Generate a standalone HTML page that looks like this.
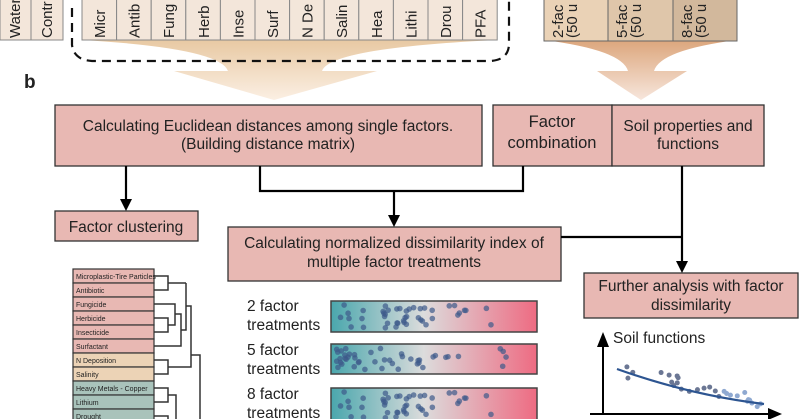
<!DOCTYPE html>
<html><head><meta charset="utf-8"><style>
html,body{margin:0;padding:0;background:#fff;width:800px;height:419px;overflow:hidden}
svg text{font-family:"Liberation Sans",Arial,sans-serif;fill:#222}
</style></head><body>
<svg id="s" width="800" height="419" viewBox="0 0 800 419" xmlns="http://www.w3.org/2000/svg">
<defs>
<linearGradient id="fun" x1="0" y1="0" x2="0" y2="1"><stop offset="0" stop-color="#e8c9a3"/><stop offset="1" stop-color="#fbefe3"/></linearGradient>
<linearGradient id="fun2" x1="0" y1="0" x2="0" y2="1"><stop offset="0" stop-color="#dca67c"/><stop offset="1" stop-color="#f7e6dc"/></linearGradient>
<linearGradient id="bar" x1="0" y1="0" x2="1" y2="0"><stop offset="0" stop-color="#4aa7ad"/><stop offset="0.45" stop-color="#dcdcdc"/><stop offset="1" stop-color="#ee6b82"/></linearGradient>
</defs>
<path d="M82,40 L497,40 Q330,48 322,71 L377,71 L274,100 L174,71 L228,71 Q220,48 82,40 Z" fill="url(#fun)"/>
<path d="M544,40 L737,40 Q660,50 654,71 L687,71 L641,100 L597,71 L628,71 Q622,50 544,40 Z" fill="url(#fun2)"/>
<g stroke="#888" stroke-width="1">
<rect x="0" y="-2" width="31" height="42" fill="#f3e6da"/><rect x="31" y="-2" width="32" height="42" fill="#f3e6da"/>
</g>
<g id="tubes" stroke="#888" stroke-width="1" fill="#f3e6da"></g>
<g stroke="#666" stroke-width="1">
<rect x="544" y="-2" width="64" height="43" fill="#ead2b6"/><rect x="608" y="-2" width="65" height="43" fill="#dfc6aa"/><rect x="673" y="-2" width="64" height="43" fill="#d2b89c"/>
</g>
<path d="M72,8 L72,45 Q74,60 92,61 L490,61 Q508,60 509,45 L509,0" fill="none" stroke="#111" stroke-width="2.2" stroke-dasharray="9,6"/>
<g font-size="15" id="vt"></g>
<text x="24" y="88" font-size="19" font-weight="bold">b</text>
<g fill="#e8b8b3" stroke="#333" stroke-width="1.3">
<rect x="55" y="105" width="427" height="61"/>
<rect x="493" y="105" width="119" height="61"/>
<rect x="612" y="105" width="152" height="61"/>
<rect x="55" y="211" width="143" height="30"/>
<rect x="228" y="227" width="333" height="54"/>
<rect x="584" y="273" width="214" height="45"/>
</g>
<g font-size="15.5" text-anchor="middle">
<text x="268" y="131">Calculating Euclidean distances among single factors.</text>
<text x="268" y="149">(Building distance matrix)</text>
<text x="552" y="127" font-size="16.5">Factor</text>
<text x="552" y="148" font-size="16.5">combination</text>
<text x="688" y="131">Soil properties and</text>
<text x="688" y="149">functions</text>
<text x="126" y="232">Factor clustering</text>
<text x="394" y="248">Calculating normalized dissimilarity index of</text>
<text x="394" y="267">multiple factor treatments</text>
<text x="691" y="291">Further analysis with factor</text>
<text x="691" y="310">dissimilarity</text>
</g>
<g stroke="#000" stroke-width="2.2" fill="none">
<line x1="126" y1="166" x2="126" y2="200"/>
<polyline points="260,166 260,191 523,191 523,166"/>
<line x1="394" y1="191" x2="394" y2="216"/>
<polyline points="561,237 682,237"/>
<line x1="682" y1="166" x2="682" y2="262"/>
</g>
<g fill="#000">
<polygon points="120,199 132,199 126,211"/>
<polygon points="388,215 400,215 394,227"/>
<polygon points="676,261 688,261 682,273"/>
</g>
<g id="dend" font-size="7"></g>
<g stroke="#333" stroke-width="1.5" fill="none">
<polyline points="154,276 168,276 168,290 154,290"/><line x1="168" y1="283" x2="186" y2="283"/>
<polyline points="154,318 168,318 168,332 154,332"/><polyline points="154,304 175,304 175,325 168,325"/>
<polyline points="154,346 181,346 181,314 175,314"/>
<polyline points="186,283 186,330 181,330"/>
<polyline points="186,306 191,306 191,342"/>
<polyline points="154,360 168,360 168,374 154,374"/><polyline points="168,367 191,367 191,342"/>
<polyline points="191,355 200,355 200,419"/>
<polyline points="154,388 168,388 168,402 154,402"/><polyline points="168,395 176,395 176,419"/>
<polyline points="154,416 168,416 168,419"/>
</g>
<g font-size="15.5">
<text x="247" y="311">2 factor</text><text x="247" y="330">treatments</text>
<text x="247" y="355">5 factor</text><text x="247" y="374">treatments</text>
<text x="247" y="399">8 factor</text><text x="247" y="418">treatments</text>
</g>
<g stroke="#444" stroke-width="1.5" fill="url(#bar)">
<rect x="331" y="301" width="206" height="31"/>
<rect x="331" y="344" width="206" height="30"/>
<rect x="331" y="388" width="206" height="34"/>
</g>
<g id="dots" fill="#3d5a8a" fill-opacity="0.7"></g>
<line x1="603" y1="414" x2="603" y2="345" stroke="#000" stroke-width="2"/>
<polygon points="597,347 609,347 603,332" fill="#000"/>
<line x1="590" y1="414" x2="770" y2="414" stroke="#000" stroke-width="2"/>
<polygon points="768,408 768,420 782,414" fill="#000"/>
<text x="613" y="343" font-size="15.5">Soil functions</text>
<g id="pd" fill="#6b7794"></g>
<path d="M617,369 Q690,395 764,404" stroke="#2d5591" stroke-width="2.2" fill="none"/>
</svg>
<script>
var NS="http://www.w3.org/2000/svg";
function el(t,a,p,txt){var e=document.createElementNS(NS,t);for(var k in a)e.setAttribute(k,a[k]);if(txt)e.textContent=txt;document.getElementById(p).appendChild(e);return e;}
var names=["Micr","Antib","Fung","Herb","Inse","Surf","N De","Salin","Hea","Lithi","Drou","PFA"];
for(var i=0;i<12;i++){var x=82+i*34.6;el("rect",{x:x,y:-2,width:34.6,height:42},"tubes");
el("text",{x:0,y:0,transform:"translate("+(x+23)+",38) rotate(-90)"},"vt",names[i]);}
[["Water",20],["Contr",52]].forEach(function(a){el("text",{x:0,y:0,transform:"translate("+a[1]+",38) rotate(-90)"},"vt",a[0]);});
[["2-fac",563,"(50 u"],["5-fac",627,"(50 u"],["8-fac",692,"(50 u"]].forEach(function(a){
el("text",{x:0,y:0,transform:"translate("+a[1]+",38) rotate(-90)"},"vt",a[0]);
el("text",{x:0,y:0,transform:"translate("+(a[1]+14)+",38) rotate(-90)"},"vt",a[2]);});
var dn=[["Microplastic-Tire Particles","#e8b8b3"],["Antibiotic","#e8b8b3"],["Fungicide","#e8b8b3"],["Herbicide","#e8b8b3"],["Insecticide","#e8b8b3"],["Surfactant","#e8b8b3"],["N Deposition","#ecd3b6"],["Salinity","#ecd3b6"],["Heavy Metals - Copper","#a9c3bb"],["Lithium","#a9c3bb"],["Drought","#a9c3bb"]];
dn.forEach(function(d,i){var y=269+i*14;el("rect",{x:73,y:y,width:81,height:14,fill:d[1],stroke:"#333","stroke-width":1.2},"dend");
el("text",{x:76,y:y+10},"dend",d[0]);});
var s=7;function r(){s=(s*9301+49297)%233280;return s/233280;}
function dots(y0,h,fn,n){for(var i=0;i<n;i++){var x=fn();el("circle",{cx:x,cy:y0+4+r()*(h-8),r:2.8},"dots");}}
function a(){var u=r();if(u<0.15)return 340+r()*25;if(u<0.75)return 380+r()*60;return 440+r()*55;}
dots(301,31,a,45);
dots(344,30,function(){var u=r();if(u<0.4)return 336+r()*25;if(u<0.8)return 360+r()*65;if(u<0.92)return 430+r()*30;return 490+r()*20;},45);
s=7;dots(388,34,a,45);
for(var i=0;i<28;i++){var x=617+r()*145;var y=369+ (x-617)*0.23 + (r()-0.5)*14;el("circle",{cx:x,cy:y,r:2.5,fill:x>720?"#8fa9d1":"#6b7794"},"pd");}
</script>
</body></html>
